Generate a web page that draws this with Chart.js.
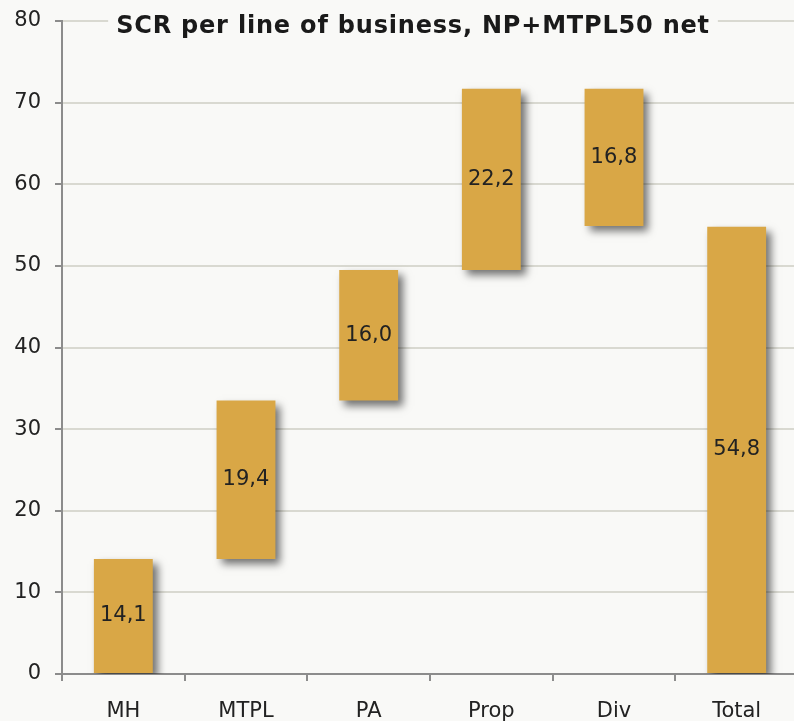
<!DOCTYPE html>
<html>
<head>
<meta charset="utf-8">
<script src="https://cdn.jsdelivr.net/npm/chart.js@4"></script>
<style>
    html, body { margin: 0; padding: 0; background: #f9f9f7; overflow: hidden; }
    #wrap { width: 798px; height: 721px; }
</style>
</head>
<body>
<div id="wrap"><canvas id="scrChart"></canvas></div>
<script>
// Data
const categories = ['MH', 'MTPL', 'PA', 'Prop', 'Div', 'Total'];
const steps = [14.1, 19.4, 16.0, 22.2, -16.8, 54.8];
const isTotal = [false, false, false, false, false, true];
const yTicks = [0, 10, 20, 30, 40, 50, 60, 70, 80];
const chartTitle = 'SCR per line of business, NP+MTPL50 net';

// Build floating ranges for the waterfall
let running = 0;
const ranges = steps.map((v, i) => {
    if (isTotal[i]) return [0, v];
    const start = running;
    running += v;
    return [start, running];
});

const fontFamily = '"DejaVu Sans", Verdana, sans-serif';
const barColor = '#d9a746';
const gridColor = '#d9d9d1';
const axisColor = '#8c8c8c';

// Drop shadow behind the bars
const barShadow = {
    id: 'barShadow',
    beforeDatasetsDraw(chart) {
        const ctx = chart.ctx;
        ctx.save();
        ctx.shadowColor = 'rgba(0, 0, 0, 0.55)';
        ctx.shadowBlur = 8;
        ctx.shadowOffsetX = 5;
        ctx.shadowOffsetY = 5;
    },
    afterDatasetsDraw(chart) {
        chart.ctx.restore();
    }
};

// Values written in the middle of each bar
const barLabels = {
    id: 'barLabels',
    afterDatasetsDraw(chart) {
        const ctx = chart.ctx;
        const meta = chart.getDatasetMeta(0);
        ctx.save();
        ctx.font = '21px ' + fontFamily;
        ctx.fillStyle = '#222';
        ctx.textAlign = 'center';
        ctx.textBaseline = 'middle';
        meta.data.forEach((bar, i) => {
            const txt = Math.abs(steps[i]).toFixed(1).replace('.', ',');
            ctx.fillText(txt, bar.x, (bar.y + bar.base) / 2);
        });
        ctx.restore();
    }
};

// Title sits on top of the plot with its own background
const overlayTitle = {
    id: 'overlayTitle',
    afterDraw(chart) {
        const ctx = chart.ctx;
        ctx.save();
        ctx.font = 'bold 24px ' + fontFamily;
        ctx.letterSpacing = '0.8px';
        const w = ctx.measureText(chartTitle).width;
        const cx = 413;
        ctx.fillStyle = '#f9f9f7';
        ctx.fillRect(cx - w / 2 - 8, 8, w + 16, 32);
        ctx.fillStyle = '#1a1a1a';
        ctx.textAlign = 'center';
        ctx.textBaseline = 'alphabetic';
        ctx.fillText(chartTitle, cx, 33);
        ctx.restore();
    }
};

new Chart(document.getElementById('scrChart').getContext('2d'), {
    type: 'bar',
    data: {
        labels: categories,
        datasets: [{
            data: ranges,
            backgroundColor: barColor,
            borderWidth: 0,
            categoryPercentage: 1,
            barPercentage: 0.48
        }]
    },
    options: {
        responsive: true,
        maintainAspectRatio: false,
        animation: false,
        layout: { padding: { left: 0, right: 0, top: 21, bottom: 0 } },
        plugins: {
            legend: { display: false },
            title: { display: false },
            tooltip: { enabled: false }
        },
        scales: {
            x: {
                afterFit(axis) {
                    axis.height = 47;
                    axis.paddingLeft = 0;
                    axis.paddingRight = 0;
                },
                grid: {
                    offset: true,
                    drawOnChartArea: false,
                    drawTicks: true,
                    tickLength: 7,
                    tickColor: axisColor,
                    lineWidth: 2
                },
                border: { color: axisColor, width: 2 },
                ticks: {
                    color: '#222',
                    padding: 18,
                    font: { family: fontFamily, size: 21 }
                }
            },
            y: {
                min: 0,
                max: 80,
                afterBuildTicks(axis) {
                    axis.ticks = yTicks.map(v => ({ value: v }));
                },
                afterFit(axis) {
                    axis.width = 62;
                    axis.paddingTop = 0;
                    axis.paddingBottom = 0;
                },
                grid: {
                    color: gridColor,
                    lineWidth: 2,
                    tickLength: 7,
                    tickColor: axisColor
                },
                border: { color: axisColor, width: 2 },
                ticks: {
                    color: '#222',
                    padding: 14,
                    font: { family: fontFamily, size: 21 }
                }
            }
        }
    },
    plugins: [barShadow, barLabels, overlayTitle]
});
</script>
</body>
</html>
